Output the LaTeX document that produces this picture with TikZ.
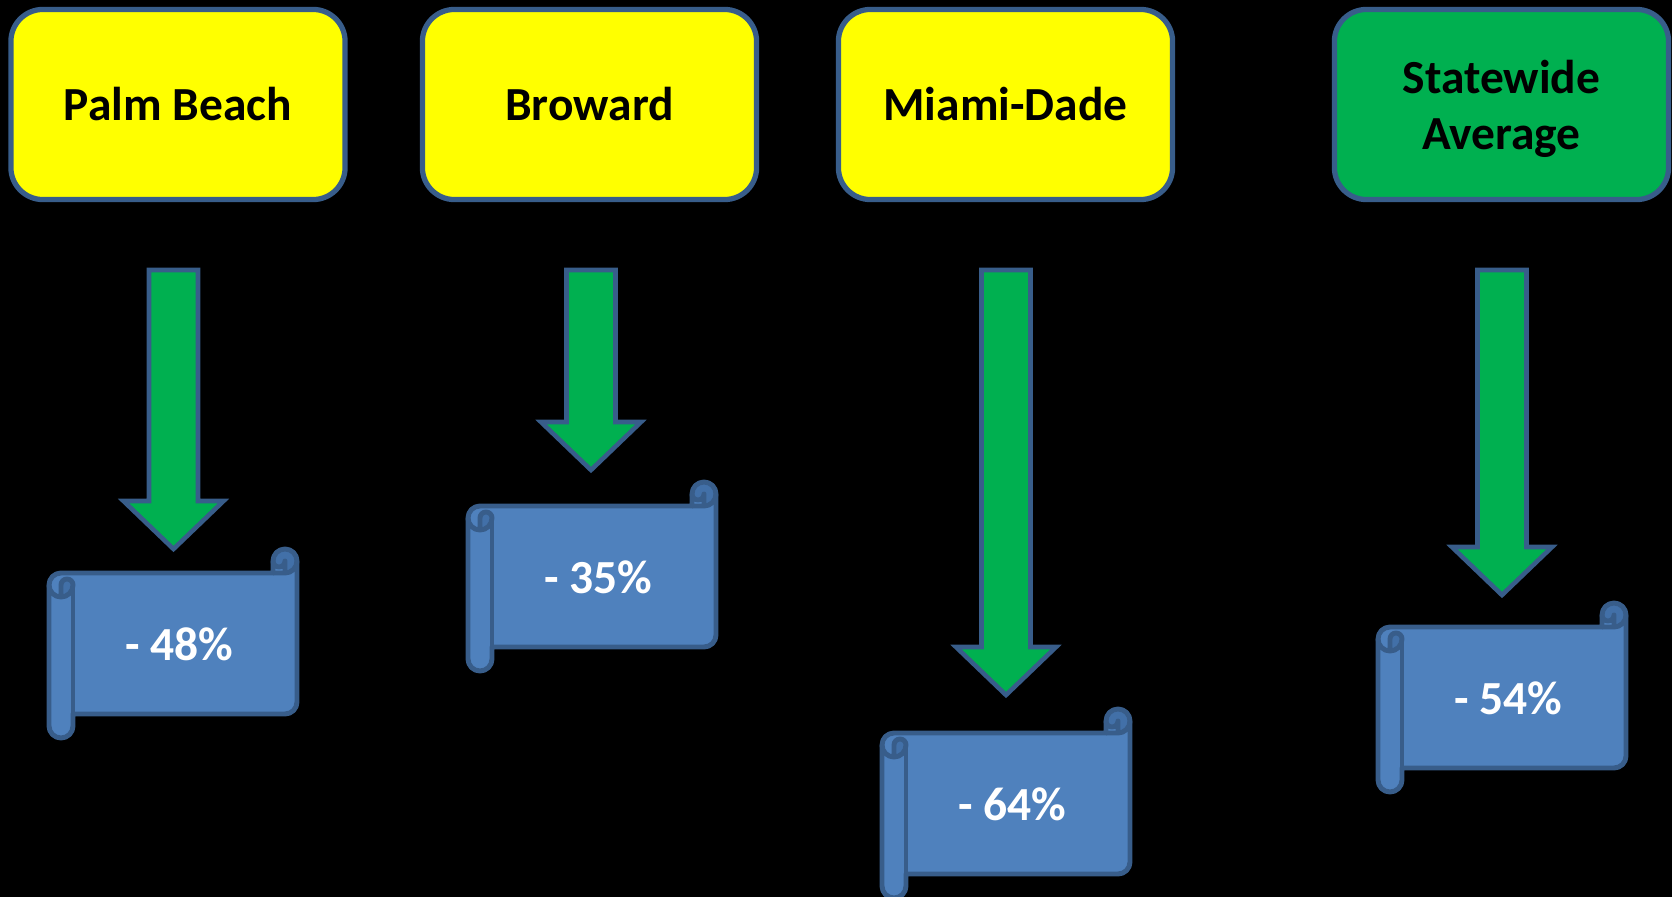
\documentclass[tikz,border=0pt]{standalone}
\usepackage{fontspec}
\setmainfont{Carlito}
\usepackage{tikz}

\definecolor{boxline}{HTML}{385D8A}
\definecolor{boxyellow}{HTML}{FFFF00}
\definecolor{boxgreen}{HTML}{00B050}
\definecolor{scrollblue}{HTML}{4F81BD}
\definecolor{scrolldark}{HTML}{4270A8}

\tikzset{
  county/.style={draw=boxline, line width=1.5pt, fill=boxyellow, rounded corners=0.32cm,
    minimum width=3.34cm, minimum height=1.9cm, inner sep=0pt, align=center,
    font=\fontsize{13.5}{15.9}\selectfont\bfseries},
  statebox/.style={county, fill=boxgreen},
  droparrow/.style={draw=boxline, line width=1.3pt, fill=boxgreen, line join=miter},
  scrollline/.style={draw=boxline, line width=1.4pt, line join=round},
  pct/.style={text=white, font=\fontsize{13.5}{16}\selectfont\bfseries, anchor=base, inner sep=0pt}
}

% block arrow: centre x, base of the head
\newcommand{\blockarrow}[2]{%
  \draw[droparrow] (#1-24.5,270) -- (#1+24.5,270) -- (#1+24.5,#2) -- (#1+50,#2)
    -- (#1,#2+48) -- (#1-50,#2) -- (#1-24.5,#2) -- cycle;}

% scroll: left, top, name, text
\newcommand{\scrollbox}[4]{%
  \begin{scope}[shift={(#1,#2)}]
    \fill[scrollblue] (248,12) arc[start angle=0,delta angle=90,radius=12] -- (236,12)
      arc[start angle=0,delta angle=180,radius=6] -- (224,24) -- (12,24)
      arc[start angle=270,delta angle=-90,radius=12] -- (0,177)
      arc[start angle=180,delta angle=-180,radius=12] -- (24,165) -- (236,165)
      arc[start angle=90,delta angle=-90,radius=12] -- cycle;
    \fill[scrolldark] (12,48) arc[start angle=90,delta angle=-90,radius=12]
      arc[start angle=0,delta angle=-180,radius=6] -- cycle;
    \fill[scrolldark] (236,24) arc[start angle=90,delta angle=-270,radius=12]
      arc[start angle=180,delta angle=-180,radius=6] -- cycle;
    \draw[scrollline] (0,36) arc[start angle=180,delta angle=90,radius=12] -- (224,24) -- (224,12)
      arc[start angle=180,delta angle=180,radius=12] -- (248,153)
      arc[start angle=0,delta angle=90,radius=12] -- (24,165) -- (24,177)
      arc[start angle=0,delta angle=180,radius=12] -- cycle;
    \draw[scrollline] (224,24) -- (236,24) arc[start angle=90,delta angle=-90,radius=12];
    \draw[scrollline] (236,24) -- (236,12) arc[start angle=0,delta angle=180,radius=6];
    \draw[scrollline] (12,48) -- (12,36) arc[start angle=180,delta angle=180,radius=6]
      arc[start angle=0,delta angle=180,radius=12];
    \draw[scrollline] (24,36) -- (24,165);
    \node[pct] (#3) at (130,111) {#4};
  \end{scope}}

\begin{document}
\begin{tikzpicture}[x=0.01cm, y=-0.01cm]
  \useasboundingbox (0,0) rectangle (1672,897);
  \fill[black] (0,0) rectangle (1672,897);

  \node[county] (pb) at (178,104.5) {Palm Beach};
  \node[county] (bw) at (589.5,104.5) {Broward};
  \node[county] (md) at (1005.5,104.5) {Miami-Dade};
  \node[statebox, text depth=0pt] (sw) at (1501.5,104.5) {Statewide\\Average};

  \blockarrow{173.5}{501}
  \blockarrow{591}{422}
  \blockarrow{1006}{647}
  \blockarrow{1502}{547}

  \scrollbox{49}{549}{pbpct}{- 48\%}
  \scrollbox{468}{482}{bwpct}{- 35\%}
  \scrollbox{882}{709}{mdpct}{- 64\%}
  \scrollbox{1378}{603}{swpct}{- 54\%}
\end{tikzpicture}
\end{document}
